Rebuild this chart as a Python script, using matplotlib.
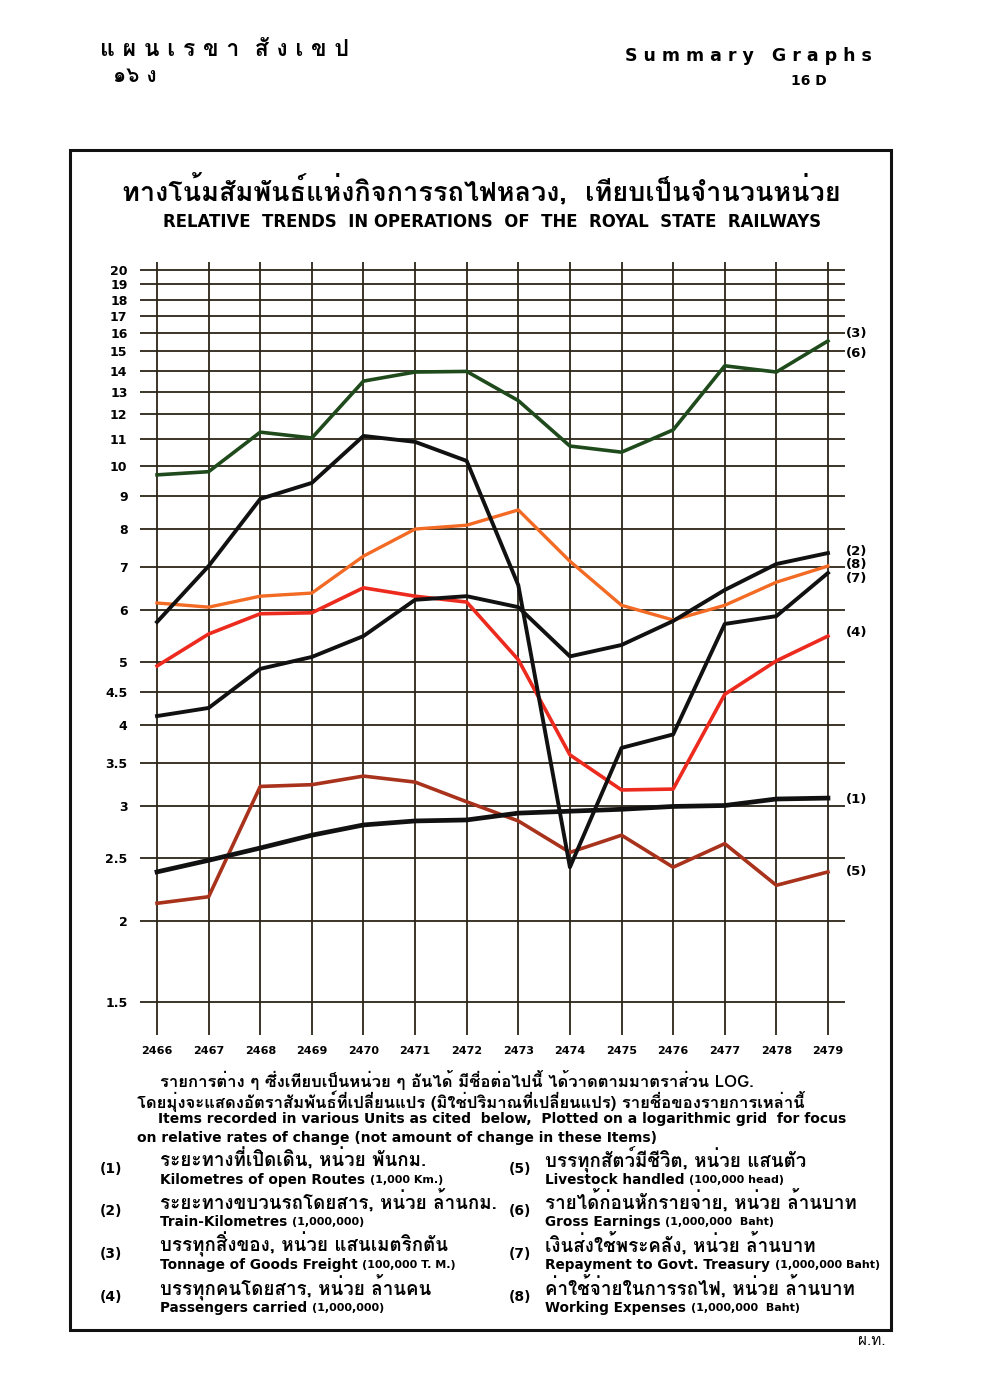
import numpy as np
import matplotlib
matplotlib.use('Agg')
import matplotlib.pyplot as plt
from matplotlib import font_manager
from matplotlib.ft2font import FT2Font
from matplotlib.patches import Rectangle
from matplotlib.ticker import NullLocator, FixedLocator

# years (Buddhist Era) and the eight series
years = list(range(2466, 2480))
route_km = [2.38, 2.48, 2.59, 2.71, 2.81, 2.85, 2.86, 2.93, 2.95, 2.97, 3.00, 3.01, 3.08, 3.09]
train_km = [4.13, 4.25, 4.88, 5.09, 5.48, 6.23, 6.31, 6.07, 5.10, 5.31, 5.78, 6.45, 7.07, 7.35]
goods_earnings = [9.69, 9.80, 11.27, 11.04, 13.5, 13.94, 13.97, 12.6, 10.73, 10.5, 11.36, 14.25, 13.94, 15.56]
passengers = [4.93, 5.52, 5.93, 5.95, 6.50, 6.31, 6.18, 5.04, 3.60, 3.18, 3.19, 4.46, 5.02, 5.48]
livestock = [2.13, 2.18, 3.22, 3.24, 3.34, 3.27, 3.05, 2.85, 2.55, 2.71, 2.42, 2.63, 2.27, 2.38]
repayment = [5.76, 7.02, 8.90, 9.42, 11.12, 10.89, 10.18, 6.56, 2.42, 3.69, 3.87, 5.72, 5.88, 6.85]
expenses = [6.16, 6.07, 6.31, 6.38, 7.27, 8.00, 8.11, 8.56, 7.14, 6.11, 5.80, 6.11, 6.63, 7.02]

grid_vals = [1.5, 2, 2.5, 3, 3.5, 4, 4.5, 5, 6, 7, 8, 9, 10, 11, 12, 13, 14, 15, 16, 17, 18, 19, 20]
grid_labels = ['1.5', '2', '2.5', '3', '3.5', '4', '4.5', '5', '6', '7', '8', '9', '10',
               '11', '12', '13', '14', '15', '16', '17', '18', '19', '20']

# right-hand series tags and where they sit on the value scale
tag_text = ['(3)', '(6)', '(2)', '(8)', '(7)', '(4)', '(1)', '(5)']
tag_vals = [16.0, 14.9, 7.4, 7.05, 6.71, 5.55, 3.08, 2.38]


def thai_families():
    found = []
    for f in font_manager.fontManager.ttflist:
        try:
            if 0x0E01 in FT2Font(f.fname).get_charmap() and f.name not in found:
                found.append(f.name)
        except Exception:
            pass
    return found


thai = thai_families()
FAM = thai + ['DejaVu Sans']
LAT = ['DejaVu Sans']
plt.rcParams['font.family'] = FAM

W, H = 990, 1385
fig = plt.figure(figsize=(W / 100, H / 100), dpi=100)
fig.patch.set_facecolor('white')
renderer = fig.canvas.get_renderer()


def fx(px):
    return px / W


def fy(py):
    return 1 - py / H


# frame around the chart
fig.add_artist(Rectangle((fx(70), fy(1330)), fx(891) - fx(70), fy(150) - fy(1330),
                         transform=fig.transFigure, fill=False, lw=2.2, ec='#111'))

# page header
fig.text(fx(100), fy(50), 'แ ผ น เ ร ข า  สั ง เ ข ป', fontsize=16.5, fontweight='bold',
         va='center', ha='left', family=FAM)
fig.text(fx(113), fy(76), '๑๖ ง', fontsize=15, fontweight='bold', va='center', ha='left', family=FAM)
fig.text(fx(625), fy(56), 'S u m m a r y   G r a p h s', fontsize=12.5, fontweight='bold',
         va='center', ha='left', family=LAT)
fig.text(fx(809), fy(81), '16 D', fontsize=10, fontweight='bold', va='center', ha='center', family=LAT)

# titles
fig.text(fx(481), fy(190), 'ทางโน้มสัมพันธ์แห่งกิจการรถไฟหลวง,  เทียบเป็นจำนวนหน่วย',
         fontsize=19.5, fontweight='bold', ha='center', va='center', family=FAM)
fig.text(fx(492), fy(222), 'RELATIVE  TRENDS  IN OPERATIONS  OF  THE  ROYAL  STATE  RAILWAYS',
         fontsize=11.9, fontweight='bold', ha='center', va='center', family=LAT)

# plot area
ax = fig.add_axes([fx(140), fy(1035), fx(845) - fx(140), fy(262) - fy(1035)])
ax.set_yscale('log')
x0, x1 = years[0] - 0.33, years[-1] + 0.33
y0, y1 = 1.337, 20.57
ax.set_xlim(x0, x1)
ax.set_ylim(y0, y1)
for s in ax.spines.values():
    s.set_visible(False)

gc = '#2b2517'
ax.hlines(grid_vals, x0, x1, color=gc, lw=1.3, zorder=1)
ax.vlines(years, y0, y1, color=gc, lw=1.3, zorder=1)

ax.yaxis.set_major_locator(FixedLocator(grid_vals))
ax.yaxis.set_minor_locator(NullLocator())
ax.set_yticklabels(grid_labels)
ax.set_xticks(years)
ax.set_xticklabels([str(y) for y in years])
ax.tick_params(axis='y', length=0, pad=9, labelsize=9)
ax.tick_params(axis='x', length=0, pad=8, labelsize=8)
for lab in ax.get_xticklabels() + ax.get_yticklabels():
    lab.set_fontweight('bold')
    lab.set_family(LAT)

ax.plot(years, goods_earnings, color='#1f4a1c', lw=2.6, zorder=3)
ax.plot(years, expenses, color='#f26a24', lw=2.4, zorder=3)
ax.plot(years, passengers, color='#ec2a1e', lw=2.6, zorder=3)
ax.plot(years, livestock, color='#a8321c', lw=2.6, zorder=3)
ax.plot(years, repayment, color='#111111', lw=2.8, zorder=4)
ax.plot(years, train_km, color='#111111', lw=2.8, zorder=4)
ax.plot(years, route_km, color='#111111', lw=3.4, zorder=4)

for t, v in zip(tag_text, tag_vals):
    ax.text(1.0015, v, t, transform=ax.get_yaxis_transform(), fontsize=9.5, fontweight='bold',
            ha='left', va='center', family=LAT, clip_on=False)

# explanatory notes below the chart
notes = [
    (160, 1080, 'รายการต่าง ๆ ซึ่งเทียบเป็นหน่วย ๆ อันได้ มีชื่อต่อไปนี้ ได้วาดตามมาตราส่วน LOG.', 12, FAM),
    (137, 1101, 'โดยมุ่งจะแสดงอัตราสัมพันธ์ที่เปลี่ยนแปร (มิใช่ปริมาณที่เปลี่ยนแปร) รายชื่อของรายการเหล่านี้', 12, FAM),
    (158, 1119, 'Items recorded in various Units as cited  below,  Plotted on a logarithmic grid  for focus', 10, LAT),
    (137, 1138, 'on relative rates of change (not amount of change in these Items)', 10, LAT),
]
for x, y, s, fs, fam in notes:
    fig.text(fx(x), fy(y), s, fontsize=fs, fontweight='bold', ha='left', va='center', family=fam)

legend_left = [
    ('(1)', 'ระยะทางที่เปิดเดิน, หน่วย พันกม.', 'Kilometres of open Routes ', '(1,000 Km.)'),
    ('(2)', 'ระยะทางขบวนรถโดยสาร, หน่วย ล้านกม.', 'Train-Kilometres ', '(1,000,000)'),
    ('(3)', 'บรรทุกสิ่งของ, หน่วย แสนเมตริกตัน', 'Tonnage of Goods Freight ', '(100,000 T. M.)'),
    ('(4)', 'บรรทุกคนโดยสาร, หน่วย ล้านคน', 'Passengers carried ', '(1,000,000)'),
]
legend_right = [
    ('(5)', 'บรรทุกสัตว์มีชีวิต, หน่วย แสนตัว', 'Livestock handled ', '(100,000 head)'),
    ('(6)', 'รายได้ก่อนหักรายจ่าย, หน่วย ล้านบาท', 'Gross Earnings ', '(1,000,000  Baht)'),
    ('(7)', 'เงินส่งใช้พระคลัง, หน่วย ล้านบาท', 'Repayment to Govt. Treasury ', '(1,000,000 Baht)'),
    ('(8)', 'ค่าใช้จ่ายในการรถไฟ, หน่วย ล้านบาท', 'Working Expenses ', '(1,000,000  Baht)'),
]
row_y = [1159, 1201, 1244, 1287]
for col, (nx, tx) in zip([legend_left, legend_right], [(111, 160), (520, 545)]):
    for (num, th, en, unit), y in zip(col, row_y):
        fig.text(fx(nx), fy(y + 10), num, fontsize=10, fontweight='bold', ha='center', va='center',
                 family=LAT)
        fig.text(fx(tx), fy(y), th, fontsize=13.5, fontweight='bold', ha='left', va='center', family=FAM)
        t = fig.text(fx(tx), fy(y + 21), en, fontsize=9.8, fontweight='bold', ha='left', va='center',
                     family=LAT)
        right_px = t.get_window_extent(renderer).x1
        fig.text(right_px / W, fy(y + 21), unit, fontsize=8, fontweight='bold', ha='left', va='center',
                 family=LAT)

fig.text(fx(872), fy(1341), 'ผ.ท.', fontsize=11, ha='center', va='center', family=FAM)

fig.savefig('out.png', dpi=100, facecolor='white')
